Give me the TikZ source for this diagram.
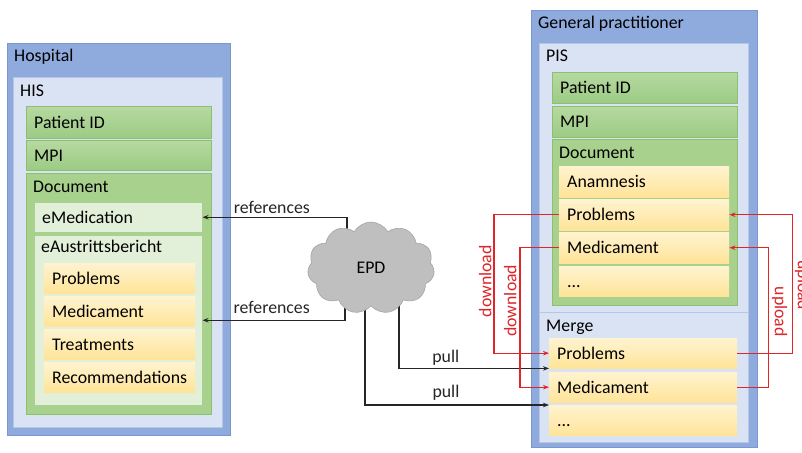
\documentclass[tikz,border=0pt]{standalone}
\usepackage{fontspec}
\setmainfont{Carlito}
\usetikzlibrary{shapes.symbols,arrows.meta}
\pgfdeclarelayer{fg}
\pgfsetlayers{main,fg}
\definecolor{blueOut}{HTML}{8FAADC}
\definecolor{blueOutB}{HTML}{7C97CF}
\definecolor{blueIn}{HTML}{DAE3F3}
\definecolor{blueInB}{HTML}{B4C7E7}
\definecolor{grnT}{HTML}{B6D9A1}
\definecolor{grnB}{HTML}{9CCB84}
\definecolor{grnDoc}{HTML}{A9D18E}
\definecolor{grnBd}{HTML}{8DBF70}
\definecolor{grnLt}{HTML}{E2F0D9}
\definecolor{ylT}{HTML}{FFF3D0}
\definecolor{ylB}{HTML}{FFE498}
\definecolor{cloudF}{HTML}{BFBFBF}
\definecolor{cloudB}{HTML}{A5A5A5}
\definecolor{redA}{HTML}{DE2529}
\newcommand{\fnt}{\fontsize{17.8}{21}\selectfont}
\tikzset{
  bx/.style={anchor=north west, inner sep=0, font=\fnt},
  outerbox/.style={bx, fill=blueOut, draw=blueOutB, line width=.8pt},
  innerbox/.style={bx, fill=blueIn, draw=blueInB, line width=.6pt},
  grnbox/.style={bx, top color=grnT, bottom color=grnB, draw=grnBd, line width=.5pt},
  docbox/.style={bx, fill=grnDoc, draw=grnBd, line width=.5pt},
  ltbox/.style={bx, fill=grnLt, draw=grnDoc, line width=.5pt},
  ylbox/.style={bx, top color=ylT, bottom color=ylB, draw=none},
  title/.style={label={[anchor=base west, xshift=7pt, yshift=-19pt, inner sep=0, font=\fnt]north west:#1}},
  item/.style={label={[anchor=base west, xshift=8pt, yshift=-5.8pt, inner sep=0, font=\fnt]west:#1}},
  arr/.style={-{Stealth[length=6pt,width=4.5pt]}, line width=1.1pt, black!85},
  rarr/.style={-{Stealth[length=6pt,width=4.5pt]}, line width=1.1pt, redA},
  lab/.style={anchor=base, inner sep=0, font=\fnt},
  rlab/.style={inner sep=2pt, font=\fnt, text=redA, anchor=south}
}
\begin{document}
\begin{tikzpicture}[x=1pt,y=-1pt]
\useasboundingbox (0,0) rectangle (802,452);
\fill[white] (0,0) rectangle (802,452);
% Hospital
\node[outerbox, minimum width=223pt, minimum height=392pt, title=Hospital] (hosp) at (7,43) {};
\node[innerbox, minimum width=209pt, minimum height=350pt, title=HIS] (his) at (13,77) {};
\node[grnbox, minimum width=185pt, minimum height=32pt, item=Patient ID] (pid1) at (26,106) {};
\node[grnbox, minimum width=185pt, minimum height=30pt, item=MPI] (mpi1) at (26,140) {};
\node[docbox, minimum width=185pt, minimum height=241pt, title=Document] (doc1) at (26,173) {};
\node[ltbox, minimum width=168pt, minimum height=30pt, item=eMedication] (emed) at (34,202) {};
\node[ltbox, minimum width=168pt, minimum height=170pt, label={[anchor=base west, xshift=7pt, yshift=-17pt, inner sep=0, font=\fnt]north west:eAustrittsbericht}] (eaus) at (34,235) {};
\node[ylbox, minimum width=151pt, minimum height=30pt, item=Problems] (prob1) at (44,263) {};
\node[ylbox, minimum width=151pt, minimum height=30pt, item=Medicament] (med1) at (44,296) {};
\node[ylbox, minimum width=151pt, minimum height=30pt, item=Treatments] (treat1) at (44,329) {};
\node[ylbox, minimum width=151pt, minimum height=30pt, item=Recommendations] (rec1) at (44,362) {};
% General practitioner
\node[outerbox, minimum width=226pt, minimum height=437pt, title={General practitioner}] (gp) at (531,10) {};
\node[innerbox, minimum width=209pt, minimum height=269pt, title=PIS] (pis) at (539,43) {};
\node[innerbox, minimum width=209pt, minimum height=130pt, title=Merge] (merge) at (539,312) {};
\node[grnbox, minimum width=185pt, minimum height=31pt, item=Patient ID] (pid2) at (552,72) {};
\node[grnbox, minimum width=185pt, minimum height=31pt, item=MPI] (mpi2) at (552,106) {};
\node[docbox, minimum width=185pt, minimum height=166pt, title=Document] (doc2) at (552,139) {};
\node[ylbox, minimum width=170pt, minimum height=31pt, item=Anamnesis] (anam) at (559,166) {};
\node[ylbox, minimum width=170pt, minimum height=31pt, item=Problems] (pprob) at (559,199) {};
\node[ylbox, minimum width=170pt, minimum height=31pt, item=Medicament] (pmed) at (559,232) {};
\node[ylbox, minimum width=170pt, minimum height=30pt, item=...] (pdots) at (559,266) {};
\node[ylbox, minimum width=188pt, minimum height=30pt, item=Problems] (mprob) at (549,338) {};
\node[ylbox, minimum width=188pt, minimum height=30pt, item=Medicament] (mmed) at (549,372) {};
\node[ylbox, minimum width=188pt, minimum height=30pt, item=...] (mdots) at (549,405) {};
% cloud
\begin{pgfonlayer}{fg}
\node[cloud, cloud puffs=11, cloud puff arc=120, aspect=1.38, fill=cloudF, draw=cloudB, line width=.6pt, minimum width=127pt, minimum height=92pt, inner sep=0, font=\fnt] (epd) at (371,268) {EPD};
\end{pgfonlayer}
% black connectors
\draw[arr] ([xshift=-24pt]epd.center) |- node[lab, pos=.76, yshift=4pt]{references} (emed.east);
\draw[arr] ([xshift=-26pt]epd.center) |- node[lab, pos=.757, yshift=7pt]{references} (eaus.east);
\draw[arr] ([xshift=28pt]epd.center) |- node[lab, pos=.656, yshift=6pt]{pull} (mprob.south west);
\draw[arr] ([xshift=-6pt]epd.center) |- node[lab, pos=.72, yshift=8pt]{pull} (mdots.north west);
% red connectors
\draw[rarr] (pprob.west) -- ++(-65,0) |- node[rlab, pos=.24, rotate=90]{download} (mprob.west);
\draw[rarr] (pmed.west) -- ++(-39,0) |- node[rlab, pos=.19, rotate=90, inner sep=3pt]{download} (mmed.west);
\draw[rarr] (mprob.east) -- ++(55,0) |- node[rlab, pos=.245, rotate=-90]{upload} (pprob.east);
\draw[rarr] (mmed.east) -- ++(31,0) |- node[rlab, pos=.27, rotate=-90, inner sep=3pt]{upload} (pmed.east);
\end{tikzpicture}
\end{document}
